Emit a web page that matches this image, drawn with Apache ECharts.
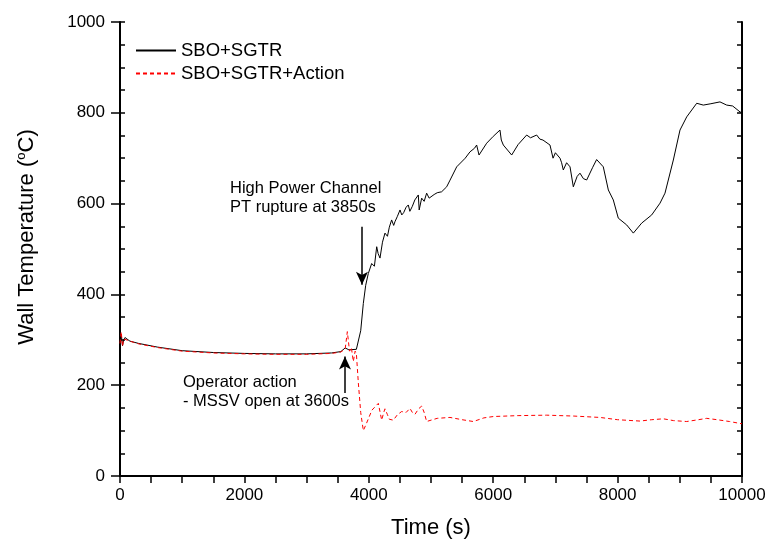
<!doctype html>
<html lang="en">
<head>
<meta charset="utf-8">
<title>Wall temperature</title>
<script src="https://cdn.jsdelivr.net/npm/echarts@6/dist/echarts.min.js"></script>
<style>
  body { margin: 0; background: #fff; }
  #chart { width: 770px; height: 548px; }
</style>
</head>
<body>
<div id="chart"></div>
<script>
// SBO+SGTR (black)
var tBase = [0, 20, 40, 60, 80, 160, 300, 600, 1000, 1500, 2000, 2500, 3000, 3400, 3550, 3620, 3680, 3800, 3830,
  3870, 3912, 3950, 3992, 4046, 4090, 4127, 4150, 4180, 4220, 4260, 4300, 4330, 4367, 4400, 4420, 4460, 4502,
  4530, 4560, 4600, 4635, 4660, 4700, 4740, 4796, 4810, 4850, 4890, 4930, 4970, 5000, 5050, 5100, 5171, 5252,
  5300, 5413, 5550, 5627, 5700, 5734, 5772, 5895, 6000, 6109, 6130, 6163, 6230, 6297, 6400, 6538, 6600, 6699,
  6750, 6800, 6913, 6962, 7000, 7074, 7100, 7127, 7180, 7235, 7288, 7350, 7395, 7450, 7503, 7600, 7663, 7770,
  7851, 7931, 8011, 8146, 8253, 8387, 8548, 8682, 8762, 8896, 9003, 9111, 9272, 9378, 9500, 9646, 9754, 9850,
  9968, 10000];
var vBase = [290, 312, 287, 300, 305, 297, 292, 284, 276, 272, 270, 269, 269, 271, 274, 282, 278, 279, 280,
  320, 380, 420, 446, 468, 462, 505, 490, 480, 515, 535, 528, 548, 564, 552, 560, 572, 586,
  575, 580, 592, 597, 583, 594, 608, 619, 586, 612, 605, 623, 612, 615, 620, 624, 626, 637,
  650, 681, 700, 714, 722, 729, 707, 733, 748, 762, 740, 729, 718, 707, 730, 751, 745, 751,
  742, 740, 729, 700, 712, 700, 690, 674, 690, 681, 637, 660, 667, 655, 652, 680, 697, 681,
  630, 608, 568, 553, 535, 557, 575, 601, 623, 696, 762, 791, 821, 817, 820, 824, 817, 815,
  802, 800];

// SBO+SGTR+Action (red dashed)
var tAction = [0, 20, 40, 60, 80, 160, 300, 600, 1000, 1500, 2000, 2500, 3000, 3400, 3550, 3620, 3655, 3690,
  3720, 3751, 3780, 3800, 3832, 3870, 3912, 3960, 4050, 4153, 4207, 4240, 4260, 4300, 4330, 4394, 4460, 4528,
  4600, 4662, 4700, 4743, 4800, 4850, 4890, 4930, 5000, 5100, 5305, 5500, 5681, 5850, 6002, 6400, 6860, 7300,
  7717, 8000, 8360, 8550, 8735, 8900, 9111, 9300, 9432, 9600, 9800, 10000];
var vAction = [292, 318, 285, 302, 306, 297, 291, 283, 275, 271, 269, 268, 268, 270, 273, 280, 318, 275,
  283, 252, 275, 270, 205, 140, 100, 115, 145, 160, 123, 140, 148, 135, 125, 123, 135, 142,
  140, 149, 140, 136, 148, 154, 140, 120, 123, 127, 129, 124, 120, 128, 131, 133, 134, 132,
  129, 124, 121, 124, 126, 122, 120, 124, 127, 124, 120, 115];

var seriesNames = ['SBO+SGTR', 'SBO+SGTR+Action'];
var xTicks = [0, 2000, 4000, 6000, 8000, 10000];
var yTicks = [0, 200, 400, 600, 800, 1000];

function pairs(t, v) {
  var out = [];
  for (var i = 0; i < t.length; i++) out.push([t[i], v[i]]);
  return out;
}
function plain(v) { return String(v); }

var FONT = '"Liberation Sans", Arial, sans-serif';
var chart = echarts.init(document.getElementById('chart'));

chart.setOption({
  animation: false,
  backgroundColor: '#fff',
  textStyle: { fontFamily: FONT, color: '#000' },
  grid: { left: 120, right: 28, top: 22, bottom: 72 },
  legend: {
    data: seriesNames,
    orient: 'vertical',
    left: 130,
    top: 36,
    itemWidth: 40,
    itemHeight: 14,
    itemGap: 4,
    itemStyle: { opacity: 0, borderWidth: 0 },
    textStyle: { fontSize: 18.5, color: '#000', fontFamily: FONT }
  },
  xAxis: [{
    type: 'value', position: 'bottom',
    min: xTicks[0], max: xTicks[xTicks.length - 1], interval: 2000,
    name: 'Time (s)', nameLocation: 'middle', nameGap: 41,
    nameTextStyle: { fontSize: 22, color: '#000', fontFamily: FONT },
    axisLine: { lineStyle: { color: '#000', width: 2 } },
    axisTick: { length: 7, lineStyle: { color: '#000', width: 1.5 } },
    minorTick: { show: true, splitNumber: 4, length: 7, lineStyle: { color: '#000', width: 1.5 } },
    axisLabel: { fontSize: 17, color: '#000', margin: 11, fontFamily: FONT, formatter: plain },
    splitLine: { show: false }
  }, {
    type: 'value', position: 'top',
    min: 0, max: 10000, interval: 500,
    axisLine: { show: true, lineStyle: { color: '#000', width: 2 } },
    axisTick: { inside: true, length: 5, lineStyle: { color: '#000', width: 1.5 } },
    axisLabel: { show: false },
    splitLine: { show: false }
  }],
  yAxis: [{
    type: 'value', position: 'left',
    min: yTicks[0], max: yTicks[yTicks.length - 1], interval: 200,
    name: 'Wall Temperature ({sup|o}C)', nameLocation: 'middle', nameGap: 82,
    nameTextStyle: {
      fontSize: 22, color: '#000', fontFamily: FONT, padding: [0, 0, 0, 24],
      rich: { sup: { fontSize: 13, verticalAlign: 'top', padding: [0, 0, 10, 0], fontFamily: FONT } }
    },
    axisLine: { show: true, lineStyle: { color: '#000', width: 2 } },
    axisTick: { length: 9, lineStyle: { color: '#000', width: 1.5 } },
    axisLabel: { fontSize: 17, color: '#000', margin: 15, fontFamily: FONT, formatter: plain },
    splitLine: { show: false }
  }, {
    type: 'value', position: 'left',
    min: 0, max: 1000, interval: 50,
    axisLine: { show: false },
    axisTick: { inside: true, length: 5, lineStyle: { color: '#000', width: 1.5 } },
    axisLabel: { show: false },
    splitLine: { show: false }
  }, {
    type: 'value', position: 'right',
    min: 0, max: 1000, interval: 50,
    axisLine: { show: true, lineStyle: { color: '#000', width: 2 } },
    axisTick: { inside: true, length: 5, lineStyle: { color: '#000', width: 1.5 } },
    axisLabel: { show: false },
    splitLine: { show: false }
  }],
  series: [{
    name: seriesNames[0],
    type: 'line',
    data: pairs(tBase, vBase),
    symbol: 'none',
    lineStyle: { color: '#000', width: 1 },
    itemStyle: { color: '#000' },
    z: 2,
    markLine: {
      silent: true,
      symbol: ['none', 'arrow'],
      symbolSize: [9, 13],
      lineStyle: { color: '#000', width: 1.5, type: 'solid' },
      label: { show: false },
      data: [
        [{ coord: [3890, 549] }, { coord: [3890, 421] }],
        [{ coord: [3617, 183] }, { coord: [3617, 263] }]
      ]
    },
    markPoint: {
      silent: true,
      symbol: 'circle',
      symbolSize: 0,
      label: {
        show: true, position: 'right', distance: 0,
        align: 'left', verticalAlign: 'middle',
        fontSize: 16.5, lineHeight: 19, color: '#000', fontFamily: FONT
      },
      data: [
        { coord: [1768, 613], label: { formatter: 'High Power Channel\nPT rupture at 3850s' } },
        { coord: [1013, 185], label: { formatter: 'Operator action\n- MSSV open at 3600s' } }
      ]
    }
  }, {
    name: seriesNames[1],
    type: 'line',
    data: pairs(tAction, vAction),
    symbol: 'none',
    lineStyle: { color: '#ff0000', width: 1, type: [4, 3] },
    itemStyle: { color: '#ff0000' },
    z: 3
  }]
});
</script>
</body>
</html>
